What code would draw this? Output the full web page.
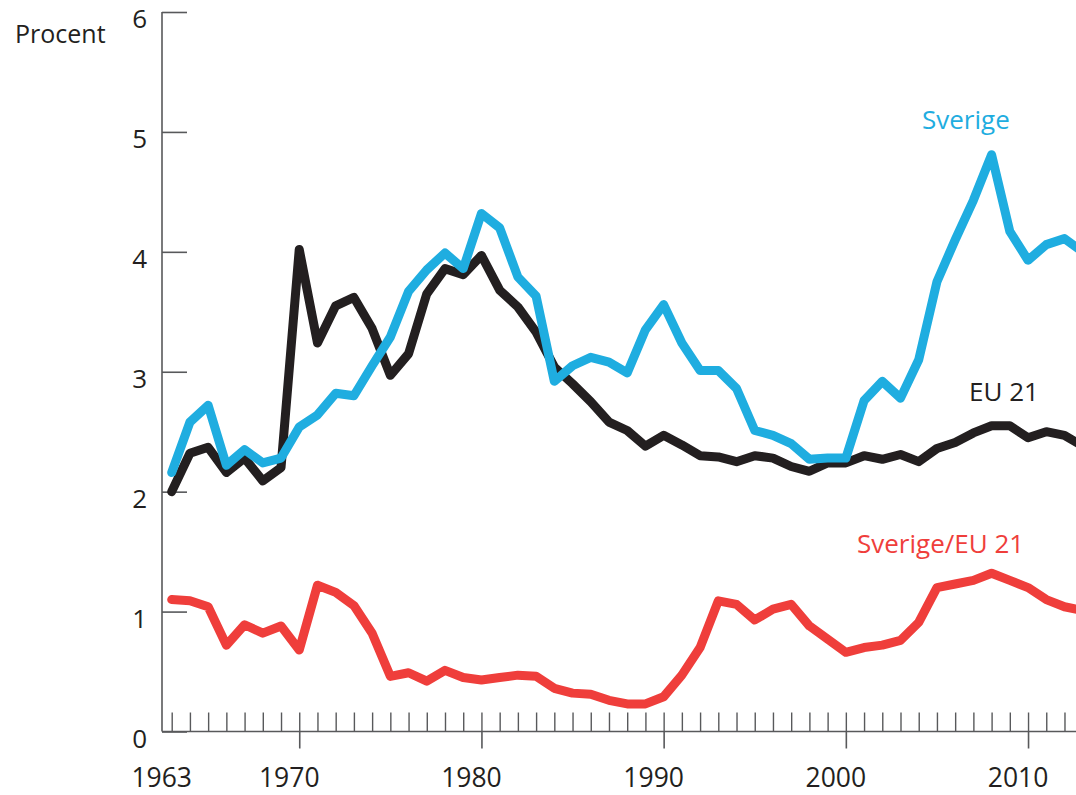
<!DOCTYPE html>
<html>
<head>
<meta charset="utf-8">
<script src="https://cdn.jsdelivr.net/npm/d3@7"></script>
<style>
  body { margin: 0; background: #fff; }
  svg text { font-family: 'Open Sans', sans-serif; }
</style>
</head>
<body>
<div id="chart"></div>
<script>
// Data
let years = d3.range(1963, 2014)

let sverige = [
  2.16, 2.58, 2.72, 2.22, 2.35, 2.24, 2.28, 2.54, 2.64, 2.82,
  2.80, 3.05, 3.29, 3.67, 3.85, 3.99, 3.86, 4.32, 4.20, 3.79,
  3.63, 2.92, 3.05, 3.12, 3.08, 2.99, 3.35, 3.56, 3.24, 3.01,
  3.01, 2.86, 2.51, 2.47, 2.40, 2.27, 2.28, 2.28, 2.76, 2.92,
  2.78, 3.10, 3.75, 4.10, 4.43, 4.81, 4.17, 3.93, 4.06, 4.11,
  4.00
]

let eu21 = [
  2.00, 2.32, 2.37, 2.16, 2.28, 2.09, 2.20, 4.02, 3.24, 3.55,
  3.62, 3.36, 2.97, 3.15, 3.65, 3.86, 3.81, 3.97, 3.68, 3.54,
  3.33, 3.04, 2.90, 2.75, 2.58, 2.51, 2.38, 2.47, 2.39, 2.30,
  2.29, 2.25, 2.30, 2.28, 2.21, 2.17, 2.24, 2.24, 2.30, 2.27,
  2.31, 2.25, 2.36, 2.41, 2.49, 2.55, 2.55, 2.45, 2.50, 2.47,
  2.38
]

let ratio = [
  1.10, 1.09, 1.04, 0.72, 0.89, 0.82, 0.88, 0.68, 1.22, 1.16,
  1.05, 0.82, 0.46, 0.49, 0.42, 0.51, 0.45, 0.43, 0.45, 0.47,
  0.46, 0.36, 0.32, 0.31, 0.26, 0.23, 0.23, 0.29, 0.47, 0.70,
  1.09, 1.06, 0.93, 1.02, 1.06, 0.88, 0.77, 0.66, 0.70, 0.72,
  0.76, 0.91, 1.20, 1.23, 1.26, 1.32, 1.26, 1.20, 1.10, 1.04,
  1.01
]

let yTicks = [0, 1, 2, 3, 4, 5, 6]
let decadeTicks = [1970, 1980, 1990, 2000, 2010]
let xLabels = [1963, 1970, 1980, 1990, 2000, 2010]

let width = 1076
let height = 795

let svg = d3
  .select('#chart')
  .append('svg')
  .attr('width', width)
  .attr('height', height)

// Scales
let xPositionScale = d3
  .scaleLinear()
  .domain([1963, 2013])
  .range([171.7, 1082.7])
let yPositionScale = d3
  .scaleLinear()
  .domain([0, 6])
  .range([731.5, 12])

let axisColor = '#58595b'
let textColor = '#231f20'

// y axis: ticks point inward
let yAxis = d3
  .axisLeft(yPositionScale)
  .tickValues(yTicks)
  .tickFormat(d3.format('d'))
  .tickSizeInner(-25)
  .tickSizeOuter(0)
  .tickPadding(15)
svg
  .append('g')
  .attr('class', 'axis y-axis')
  .attr('transform', 'translate(162,0)')
  .call(yAxis)
  .call(g => g.select('.domain').remove())
  .call(g => g.selectAll('line').attr('stroke', axisColor).attr('stroke-width', 1.6))
  .call(g =>
    g
      .selectAll('text')
      .attr('x', -15)
      .attr('dy', '0.6em')
      .attr('font-size', 26)
      .attr('fill', textColor)
  )

// x axis: yearly minor ticks pointing up
let xMinor = d3
  .axisBottom(xPositionScale)
  .tickValues(years)
  .tickSizeInner(-19)
  .tickSizeOuter(0)
  .tickFormat('')
svg
  .append('g')
  .attr('class', 'axis x-minor')
  .attr('transform', 'translate(0,' + yPositionScale(0) + ')')
  .call(xMinor)
  .call(g => g.select('.domain').remove())
  .call(g => g.selectAll('line').attr('stroke', axisColor).attr('stroke-width', 1.4))

// decade ticks pointing down
let xMajor = d3
  .axisBottom(xPositionScale)
  .tickValues(decadeTicks)
  .tickSizeInner(17)
  .tickSizeOuter(0)
  .tickFormat('')
svg
  .append('g')
  .attr('class', 'axis x-major')
  .attr('transform', 'translate(0,' + yPositionScale(0) + ')')
  .call(xMajor)
  .call(g => g.select('.domain').remove())
  .call(g => g.selectAll('line').attr('stroke', axisColor).attr('stroke-width', 1.6))

// axis lines
svg
  .append('line')
  .attr('x1', 162)
  .attr('x2', width)
  .attr('y1', yPositionScale(0))
  .attr('y2', yPositionScale(0))
  .attr('stroke', axisColor)
  .attr('stroke-width', 1.6)
svg
  .append('line')
  .attr('x1', 162)
  .attr('x2', 162)
  .attr('y1', yPositionScale(6))
  .attr('y2', yPositionScale(0))
  .attr('stroke', axisColor)
  .attr('stroke-width', 1.6)

// year labels
svg
  .selectAll('.year-label')
  .data(xLabels)
  .enter()
  .append('text')
  .attr('class', 'year-label')
  .text(d => d)
  .attr('x', d => xPositionScale(d) - 10)
  .attr('y', 787)
  .attr('text-anchor', 'middle')
  .attr('font-size', 26.5)
  .attr('fill', textColor)

svg
  .append('text')
  .text('Procent')
  .attr('x', 15)
  .attr('y', 43)
  .attr('font-size', 25)
  .attr('fill', textColor)

// Lines
let line = d3
  .line()
  .x((d, i) => xPositionScale(years[i]))
  .y(d => yPositionScale(d))

let series = [
  { name: 'EU 21', values: eu21, color: '#231f20' },
  { name: 'Sverige', values: sverige, color: '#1fade0' },
  { name: 'Sverige/EU 21', values: ratio, color: '#ef3e3b' }
]

svg
  .selectAll('.series')
  .data(series)
  .enter()
  .append('path')
  .attr('class', 'series')
  .attr('d', d => line(d.values))
  .attr('fill', 'none')
  .attr('stroke', d => d.color)
  .attr('stroke-width', 9)
  .attr('stroke-linejoin', 'round')
  .attr('stroke-linecap', 'round')

// series labels
svg
  .append('text')
  .text('Sverige')
  .attr('x', 922)
  .attr('y', 129)
  .attr('font-size', 26)
  .attr('fill', '#1fade0')

svg
  .append('text')
  .text('EU 21')
  .attr('x', 969)
  .attr('y', 401)
  .attr('font-size', 26)
  .attr('fill', textColor)

svg
  .append('text')
  .text('Sverige/EU 21')
  .attr('x', 857)
  .attr('y', 553)
  .attr('font-size', 26)
  .attr('fill', '#ef3e3b')
</script>
</body>
</html>
